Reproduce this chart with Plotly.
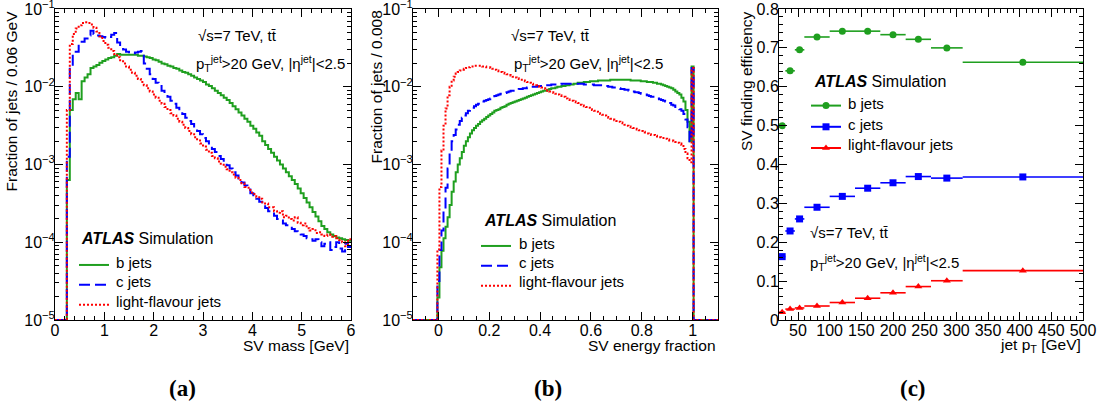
import numpy as np
import plotly.graph_objects as go

W, H = 1100, 403
OFF = 0                      # body margin is removed below, figure fills the window
FW, FH = W - OFF, H - OFF
FONT = "Liberation Sans, Arial, Helvetica, sans-serif"
GREEN = "#1f9f1f"
BLUE = "#0000ff"
RED = "#ff0000"
FLOOR = -5.0

# ---------------- Panel (a): SV mass, 100 bins of 0.06 GeV in [0, 6] (log10 of fraction)
mass_b_log = [
    -5, -5, -5, -5, -3.20, -2.30, -2.16, -2.08, -2.16, -1.93,
    -1.88, -1.84, -1.76, -1.74, -1.72, -1.69, -1.67, -1.65, -1.63, -1.62,
    -1.60, -1.58, -1.59, -1.59, -1.59, -1.59, -1.59, -1.59, -1.60, -1.60,
    -1.61, -1.62, -1.63, -1.65, -1.66, -1.68, -1.70, -1.71, -1.73, -1.74,
    -1.76, -1.77, -1.79, -1.81, -1.82, -1.84, -1.86, -1.88, -1.90, -1.92,
    -1.94, -1.97, -1.99, -2.02, -2.05, -2.08, -2.11, -2.14, -2.17, -2.21,
    -2.25, -2.29, -2.33, -2.37, -2.41, -2.45, -2.50, -2.54, -2.59, -2.63,
    -2.70, -2.75, -2.80, -2.85, -2.90, -2.95, -3.00, -3.05, -3.10, -3.15,
    -3.20, -3.25, -3.31, -3.37, -3.43, -3.49, -3.55, -3.61, -3.67, -3.73,
    -3.79, -3.83, -3.87, -3.90, -3.92, -3.94, -3.95, -3.96, -3.97, -3.98,
]
mass_c_log = [
    -5, -5, -5, -5, -2.90, -1.75, -1.58, -1.55, -1.45, -1.42,
    -1.38, -1.34, -1.28, -1.32, -1.34, -1.35, -1.36, -1.37, -1.36, -1.33,
    -1.31, -1.43, -1.48, -1.52, -1.55, -1.57, -1.57, -1.56, -1.55, -1.54,
    -1.70, -1.77, -1.84, -1.90, -1.95, -1.99, -2.05, -2.09, -2.13, -2.18,
    -2.22, -2.27, -2.31, -2.35, -2.40, -2.44, -2.48, -2.53, -2.57, -2.61,
    -2.66, -2.70, -2.75, -2.80, -2.84, -2.89, -2.93, -2.97, -3.01, -3.05,
    -3.10, -3.14, -3.18, -3.23, -3.27, -3.32, -3.37, -3.41, -3.44, -3.48,
    -3.52, -3.56, -3.60, -3.63, -3.66, -3.70, -3.72, -3.76, -3.78, -3.80,
    -3.83, -3.86, -3.88, -3.90, -3.92, -3.95, -3.96, -3.98, -3.96, -4.00,
    -4.05, -4.02, -4.00, -4.10, -4.06, -4.00, -4.08, -4.12, -4.02, -4.06,
]
mass_l_log = [
    -5, -5, -5, -5, -2.30, -1.45, -1.32, -1.25, -1.21, -1.18,
    -1.17, -1.18, -1.20, -1.24, -1.29, -1.35, -1.41, -1.46, -1.50, -1.54,
    -1.58, -1.62, -1.66, -1.70, -1.74, -1.78, -1.82, -1.86, -1.90, -1.94,
    -1.98, -2.02, -2.06, -2.10, -2.14, -2.18, -2.22, -2.26, -2.30, -2.34,
    -2.37, -2.41, -2.45, -2.49, -2.53, -2.57, -2.61, -2.65, -2.69, -2.73,
    -2.77, -2.81, -2.85, -2.89, -2.92, -2.96, -2.99, -3.03, -3.06, -3.10,
    -3.13, -3.17, -3.20, -3.24, -3.29, -3.30, -3.36, -3.38, -3.42, -3.44,
    -3.50, -3.50, -3.55, -3.55, -3.60, -3.62, -3.60, -3.68, -3.66, -3.70,
    -3.72, -3.68, -3.75, -3.78, -3.76, -3.82, -3.85, -3.83, -3.88, -3.87,
    -3.90, -3.92, -3.90, -3.93, -3.92, -3.95, -3.97, -4.00, -4.05, -3.96,
]

# ---------------- Panel (b): SV energy fraction, bins of 0.008 in [-0.1, 1.1]
# non-empty bins centred at 0.000 ... 1.000 (126 bins); all other bins are empty
efrac_b_log = [
    -4.71, -4.32, -4.11, -3.95, -3.80, -3.68, -3.52, -3.35, -3.22, -3.10,
    -3.00, -2.92, -2.84, -2.76, -2.70, -2.65, -2.60, -2.56, -2.53, -2.50,
    -2.48, -2.45, -2.43, -2.41, -2.39, -2.37, -2.35, -2.33, -2.31, -2.30,
    -2.29, -2.27, -2.26, -2.25, -2.23, -2.22, -2.21, -2.20, -2.19, -2.18,
    -2.17, -2.16, -2.15, -2.14, -2.13, -2.12, -2.11, -2.10, -2.09, -2.08,
    -2.07, -2.06, -2.05, -2.05, -2.04, -2.03, -2.02, -2.02, -2.01, -2.00,
    -2.00, -1.99, -1.99, -1.98, -1.98, -1.97, -1.97, -1.96, -1.96, -1.95,
    -1.95, -1.95, -1.94, -1.94, -1.94, -1.93, -1.93, -1.93, -1.93, -1.92,
    -1.92, -1.92, -1.92, -1.92, -1.92, -1.91, -1.91, -1.91, -1.91, -1.91,
    -1.91, -1.91, -1.91, -1.91, -1.91, -1.92, -1.92, -1.92, -1.92, -1.92,
    -1.93, -1.93, -1.93, -1.94, -1.94, -1.94, -1.95, -1.95, -1.96, -1.96,
    -1.97, -1.98, -1.99, -2.00, -2.01, -2.02, -2.04, -2.06, -2.08, -2.10,
    -2.14, -2.19, -2.30, -2.45, -2.70, -1.74,
]
efrac_c_log = [
    -4.50, -4.10, -3.85, -3.60, -3.30, -3.05, -2.85, -2.70, -2.62, -2.55,
    -2.49, -2.44, -2.40, -2.37, -2.34, -2.31, -2.29, -2.27, -2.25, -2.23,
    -2.22, -2.20, -2.19, -2.18, -2.17, -2.16, -2.15, -2.14, -2.12, -2.11,
    -2.10, -2.09, -2.09, -2.08, -2.07, -2.06, -2.05, -2.05, -2.04, -2.04,
    -2.03, -2.03, -2.02, -2.02, -2.01, -2.01, -2.00, -2.00, -2.00, -1.99,
    -1.99, -1.99, -1.98, -1.98, -1.98, -1.98, -1.97, -1.97, -1.97, -1.97,
    -1.97, -1.96, -1.96, -1.96, -1.96, -1.96, -1.96, -1.96, -1.96, -1.96,
    -1.96, -1.96, -1.97, -1.97, -1.97, -1.97, -1.97, -1.98, -1.98, -1.98,
    -1.98, -1.99, -1.99, -1.99, -2.00, -2.00, -2.01, -2.01, -2.02, -2.02,
    -2.03, -2.03, -2.04, -2.04, -2.05, -2.05, -2.06, -2.07, -2.07, -2.08,
    -2.09, -2.09, -2.10, -2.11, -2.12, -2.13, -2.13, -2.14, -2.15, -2.16,
    -2.17, -2.18, -2.19, -2.20, -2.21, -2.23, -2.24, -2.26, -2.27, -2.29,
    -2.31, -2.35, -2.42, -2.52, -2.70, -1.76,
]
efrac_l_log = [
    -4.09, -3.29, -2.82, -2.50, -2.28, -2.11, -2.00, -1.92, -1.87, -1.83,
    -1.81, -1.79, -1.78, -1.77, -1.76, -1.75, -1.74, -1.74, -1.73, -1.73,
    -1.73, -1.73, -1.74, -1.74, -1.75, -1.75, -1.76, -1.77, -1.78, -1.79,
    -1.80, -1.81, -1.82, -1.83, -1.84, -1.85, -1.86, -1.87, -1.88, -1.89,
    -1.90, -1.91, -1.92, -1.93, -1.94, -1.95, -1.96, -1.97, -1.98, -1.99,
    -2.00, -2.01, -2.02, -2.03, -2.05, -2.06, -2.07, -2.08, -2.09, -2.10,
    -2.11, -2.12, -2.13, -2.15, -2.16, -2.17, -2.18, -2.19, -2.20, -2.21,
    -2.23, -2.24, -2.25, -2.26, -2.27, -2.29, -2.30, -2.31, -2.32, -2.34,
    -2.35, -2.36, -2.37, -2.39, -2.40, -2.41, -2.42, -2.43, -2.44, -2.45,
    -2.46, -2.47, -2.49, -2.50, -2.51, -2.52, -2.53, -2.54, -2.55, -2.56,
    -2.57, -2.58, -2.59, -2.60, -2.61, -2.62, -2.62, -2.63, -2.64, -2.65,
    -2.66, -2.66, -2.67, -2.68, -2.69, -2.69, -2.70, -2.71, -2.72, -2.73,
    -2.75, -2.80, -2.86, -2.92, -2.97, -1.76,
]
EFRAC_EMPTY_BEFORE = 12
EFRAC_EMPTY_AFTER = 12

# ---------------- Panel (c): SV finding efficiency vs jet pT
pt_edges = [20, 30, 45, 60, 100, 140, 180, 220, 260, 310, 500]
pt_centers = [25, 37.5, 52.5, 80, 120, 160, 200, 240, 285, 405]
eff_b = [0.500, 0.641, 0.695, 0.728, 0.743, 0.743, 0.734, 0.722, 0.700, 0.663]
eff_c = [0.163, 0.229, 0.260, 0.290, 0.318, 0.339, 0.353, 0.369, 0.365, 0.368]
eff_l = [0.020, 0.028, 0.031, 0.036, 0.045, 0.056, 0.070, 0.086, 0.101, 0.127]

labels = ["b jets", "c jets", "light-flavour jets"]

# ---------------- helpers (positions given in page pixels of the 1100x403 window)
def px(x):
    return (x - OFF) / FW

def py(y):
    return 1 - (y - OFF) / FH

def step_xy(edges, logvals):
    vals = [10 ** v for v in logvals]
    return list(edges), vals + [vals[-1]]

mass_edges = np.linspace(0, 6, 101)
efrac_edges = np.linspace(-0.1, 1.1, 151)

def pad(v):
    return [FLOOR] * EFRAC_EMPTY_BEFORE + v + [FLOOR] * EFRAC_EMPTY_AFTER

fig = go.Figure()

styles = [
    dict(color=GREEN, width=2, dash="solid"),
    dict(color=BLUE, width=2, dash="11px,5px"),
    dict(color=RED, width=2, dash="2px,2px"),
]

for lab, st, lv in zip(labels, styles, [mass_b_log, mass_c_log, mass_l_log]):
    x, y = step_xy(mass_edges, lv)
    fig.add_trace(go.Scatter(x=x, y=y, mode="lines", name=" ",
                             line=dict(shape="hv", **st),
                             xaxis="x", yaxis="y", legend="legend"))

for lab, st, lv in zip(labels, styles, [efrac_b_log, efrac_c_log, efrac_l_log]):
    x, y = step_xy(efrac_edges, pad(lv))
    fig.add_trace(go.Scatter(x=x, y=y, mode="lines", name=" ",
                             line=dict(shape="hv", **st),
                             xaxis="x2", yaxis="y2", legend="legend2"))

half_w = [(pt_edges[i + 1] - pt_edges[i]) / 2 for i in range(len(pt_centers))]
msyms = ["circle", "square", "triangle-up"]
cols = [GREEN, BLUE, RED]
for lab, col, sym, ev in zip(labels, cols, msyms, [eff_b, eff_c, eff_l]):
    fig.add_trace(go.Scatter(x=pt_centers, y=ev, mode="markers", showlegend=False,
                             marker=dict(symbol=sym, color=col, size=7),
                             error_x=dict(type="data", array=half_w, symmetric=True,
                                          color=col, thickness=1.6, width=0),
                             xaxis="x3", yaxis="y3"))
    fig.add_trace(go.Scatter(x=[None], y=[None], mode="lines+markers", name=" ",
                             line=dict(color=col, width=2),
                             marker=dict(symbol=sym, color=col, size=7),
                             xaxis="x3", yaxis="y3", legend="legend3"))

ydom = [py(320), py(9)]
common = dict(showline=True, linecolor="black", linewidth=1, mirror="ticks",
              ticks="inside", ticklen=8, tickwidth=1, tickcolor="black",
              showgrid=False, zeroline=False, automargin=False,
              ticklabelstandoff=-4, ticklabeloverflow="allow",
              tickfont=dict(family=FONT, size=16, color="black"))

log_major = [10.0 ** e for e in range(-5, 0)]
log_text = ["10<sup>\u2212%d</sup>" % (-e) for e in range(-5, 0)]
log_minor = [k * 10.0 ** e for e in range(-5, -1) for k in range(2, 10)]

logaxis = dict(type="log", range=[-5, -1], tickmode="array", tickvals=log_major,
               ticktext=log_text,
               minor=dict(tickmode="array", tickvals=log_minor, ticklen=4,
                          ticks="inside", tickcolor="black"))

fig.update_layout(
    width=FW, height=FH, autosize=False,
    margin=dict(l=0, r=0, t=0, b=0),
    paper_bgcolor="white", plot_bgcolor="white",
    font=dict(family=FONT, size=16, color="black"),
    xaxis=dict(domain=[px(55), px(351)], range=[0, 6], anchor="y",
               tickmode="array", tickvals=[0, 1, 2, 3, 4, 5, 6],
               minor=dict(dtick=0.2, tick0=0, ticklen=4, ticks="inside", tickcolor="black"),
               **common),
    yaxis=dict(domain=ydom, anchor="x", **logaxis, **common),
    xaxis2=dict(domain=[px(413), px(718)], range=[-0.1, 1.1], anchor="y2",
                tickmode="array", tickvals=[0, 0.2, 0.4, 0.6, 0.8, 1],
                minor=dict(dtick=0.05, tick0=0, ticklen=4, ticks="inside", tickcolor="black"),
                **common),
    yaxis2=dict(domain=ydom, anchor="x2", **logaxis, **common),
    xaxis3=dict(domain=[px(779), px(1083)], range=[20, 500], anchor="y3",
                tickmode="array", tickvals=list(range(50, 501, 50)),
                minor=dict(dtick=10, tick0=0, ticklen=4, ticks="inside", tickcolor="black"),
                **common),
    yaxis3=dict(domain=ydom, range=[0, 0.8], anchor="x3",
                tickmode="array", tickvals=[0, 0.1, 0.2, 0.3, 0.4, 0.5, 0.6, 0.7, 0.8],
                ticktext=["0", "0.1", "0.2", "0.3", "0.4", "0.5", "0.6", "0.7", "0.8"],
                minor=dict(dtick=0.02, tick0=0, ticklen=4, ticks="inside", tickcolor="black"),
                **common),
)

def leg(x, y, size):
    return dict(x=px(x), y=py(y), bgcolor="rgba(0,0,0,0)", borderwidth=0,
                xanchor="left", yanchor="top", tracegroupgap=0, itemwidth=30,
                font=dict(family=FONT, size=size, color="black"))

fig.update_layout(
    legend=leg(74, 250, 13),
    legend2=leg(476, 231, 13),
    legend3=leg(806, 90, 14),
)

ann = []
def txt(x, y, s, size=15, xanchor="left", yanchor="middle", angle=0, family=FONT):
    ann.append(dict(x=px(x), y=py(y), xref="paper", yref="paper", text=s,
                    showarrow=False, xanchor=xanchor, yanchor=yanchor, textangle=angle,
                    font=dict(family=family, size=size, color="black")))

sqrt_s = "\u221as=7 TeV, tt\u0304"
ptcut = "p<sub>T</sub><sup>jet</sup>&gt;20 GeV, |\u03b7<sup>jet</sup>|&lt;2.5"
atlas = "<b><i>ATLAS</i></b> Simulation"

txt(196, 35, sqrt_s)
txt(194, 63, ptcut)
txt(509, 35, sqrt_s)
txt(512, 63, ptcut)
txt(808, 232, sqrt_s)
txt(808, 262, ptcut)

# legend header and entry labels
txt(79, 238, atlas, size=16)
txt(482, 220, atlas, size=16)
txt(812, 81, atlas, size=16)
for x0, ys in [(114, [262, 281.5, 301]), (517, [243, 262, 281]), (846, [103, 124, 145])]:
    for lab, yy in zip(labels, ys):
        txt(x0, yy, lab)

txt(11, 9, "Fraction of jets / 0.06 GeV", size=15.5, angle=-90, xanchor="center", yanchor="top")
txt(376, 9, "Fraction of jets / 0.008", size=15.5, angle=-90, xanchor="center", yanchor="top")
txt(746, 9, "SV finding efficiency", size=15.5, angle=-90, xanchor="center", yanchor="top")

txt(351, 345, "SV mass [GeV]", size=15.5, xanchor="right")
txt(718, 345, "SV energy fraction", size=15.5, xanchor="right")
txt(1083, 345, "jet p<sub>T</sub> [GeV]", size=15.5, xanchor="right")

serif = "Liberation Serif, Times New Roman, serif"
txt(182, 388, "<b>(a)</b>", size=23, xanchor="center", family=serif)
txt(548, 388, "<b>(b)</b>", size=23, xanchor="center", family=serif)
txt(913, 388, "<b>(c)</b>", size=23, xanchor="center", family=serif)

fig.update_layout(annotations=ann)

fig.write_html("out.html",
               config={"displayModeBar": False},
               post_script="document.body.style.margin='0px';document.body.style.overflow='hidden';")
